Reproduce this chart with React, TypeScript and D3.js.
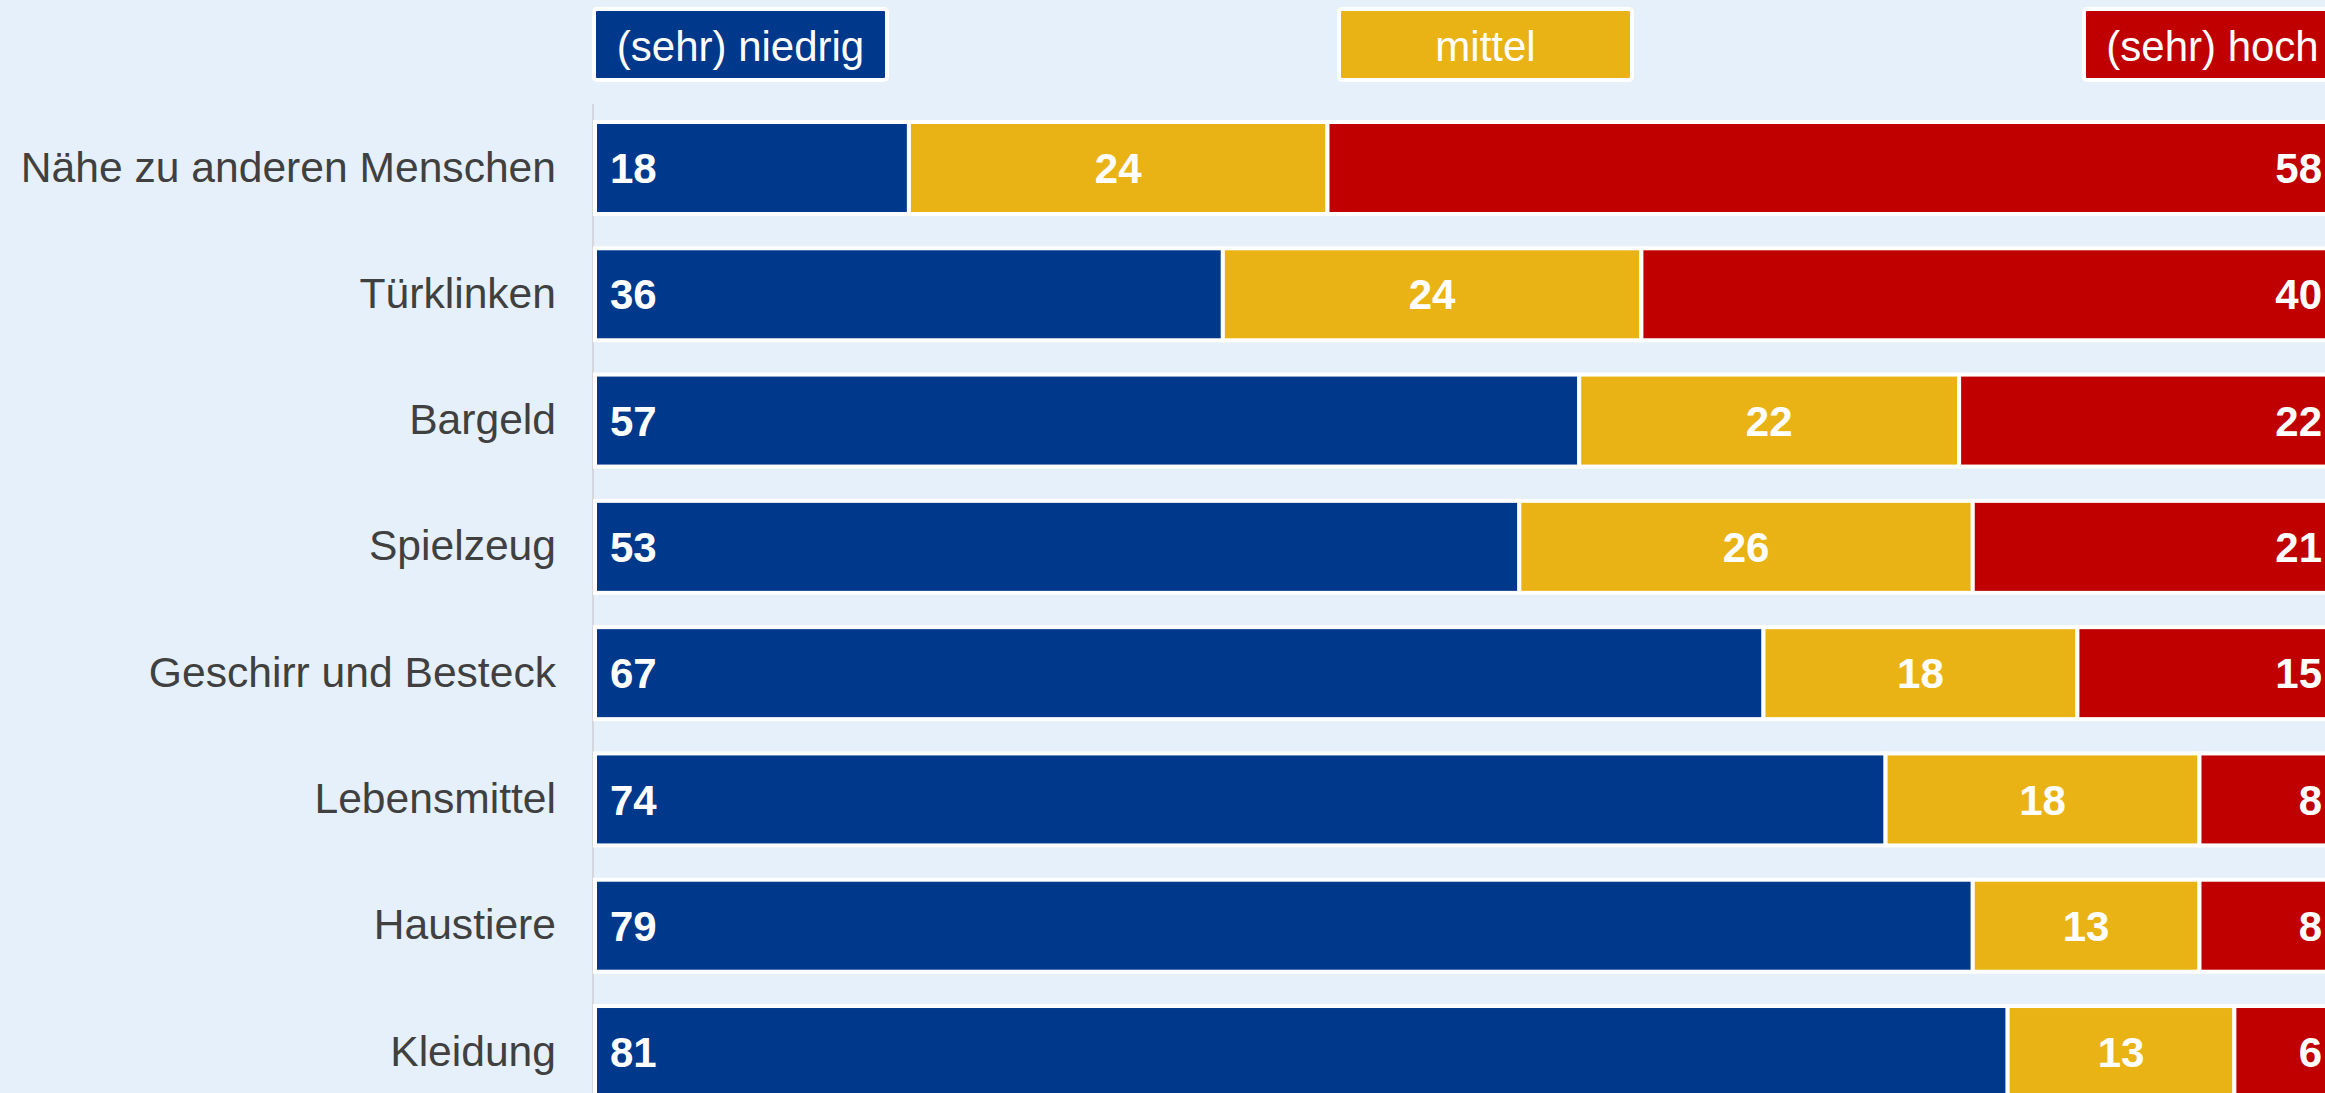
import React from "react";
import * as d3 from "d3";

const categories = [
  "Nähe zu anderen Menschen",
  "Türklinken",
  "Bargeld",
  "Spielzeug",
  "Geschirr und Besteck",
  "Lebensmittel",
  "Haustiere",
  "Kleidung",
];
const seriesNames = ["(sehr) niedrig", "mittel", "(sehr) hoch"];
const niedrig = [18, 36, 57, 53, 67, 74, 79, 81];
const mittel = [24, 24, 22, 26, 18, 18, 13, 13];
const hoch = [58, 40, 22, 21, 15, 8, 8, 6];
const colors = ["#00388C", "#EAB315", "#C00000"];

const W = 2325;
const H = 1093;
const FONT = "'Liberation Sans', Arial, Helvetica, sans-serif";

export default function App() {
  const series = [niedrig, mittel, hoch];
  const x = d3.scaleLinear().domain([0, 100]).range([595, 2339]);
  const y = d3
    .scaleBand<string>()
    .domain(categories)
    .range([122, 1098])
    .paddingInner(0.2716)
    .paddingOuter(0);
  const bw = y.bandwidth();

  const rows = categories.map((c, i) => {
    const vals = series.map((s) => s[i]);
    const total = d3.sum(vals);
    let acc = 0;
    const segs = vals.map((v, k) => {
      const start = (acc / total) * 100;
      acc += v;
      const end = (acc / total) * 100;
      return { k, v, start, end };
    });
    return { c, segs };
  });

  // legend
  const legendX = d3.scaleLinear().domain([0, 1]).range([596, 1341]);
  const chartRight = x(100);

  return (
    <svg
      width={W}
      height={H}
      style={{ position: "absolute", left: 0, top: 0, display: "block" }}
      fontFamily={FONT}
    >
      <rect x={0} y={0} width={W} height={H} fill="#E6F0FA" />

      {/* legend */}
      {seriesNames.map((name, k) => {
        const bx = legendX(k);
        const bwid = Math.min(289, chartRight - bx);
        return (
          <g key={name}>
            <rect
              x={bx - 2}
              y={9}
              width={bwid + 4}
              height={71}
              rx={3}
              fill={colors[k]}
              stroke="#ffffff"
              strokeWidth={4}
            />
            <text
              x={bx + bwid / 2}
              y={44.5}
              dy="0.4em"
              textAnchor="middle"
              fill="#ffffff"
              fontSize={42}
            >
              {name}
            </text>
          </g>
        );
      })}

      {/* axis line */}
      <line x1={593} x2={593} y1={104} y2={H} stroke="#D4D8DC" strokeWidth={2} />

      {/* category labels */}
      {categories.map((c) => (
        <text
          key={c}
          x={556}
          y={(y(c) as number) + bw / 2}
          dy="0.32em"
          textAnchor="end"
          fill="#404040"
          fontSize={42.6}
        >
          {c}
        </text>
      ))}

      {/* bars */}
      {rows.map((r) => (
        <g key={r.c} transform={`translate(0,${y(r.c)})`}>
          {r.segs.map((s) => (
            <rect
              key={s.k}
              x={x(s.start)}
              y={0}
              width={x(s.end) - x(s.start)}
              height={bw}
              fill={colors[s.k]}
              stroke="#ffffff"
              strokeWidth={4}
            />
          ))}
          {r.segs.map((s) => {
            let tx = 0;
            let anchor = "middle";
            if (s.k === 0) {
              tx = x(s.start) + 15;
              anchor = "start";
            } else if (s.k === 1) {
              tx = (x(s.start) + x(s.end)) / 2;
              anchor = "middle";
            } else {
              tx = x(s.end) - 17;
              anchor = "end";
            }
            return (
              <text
                key={"t" + s.k}
                x={tx}
                y={bw / 2}
                dy="0.36em"
                textAnchor={anchor}
                fill="#ffffff"
                fontWeight="bold"
                fontSize={42}
              >
                {s.v}
              </text>
            );
          })}
        </g>
      ))}
    </svg>
  );
}
